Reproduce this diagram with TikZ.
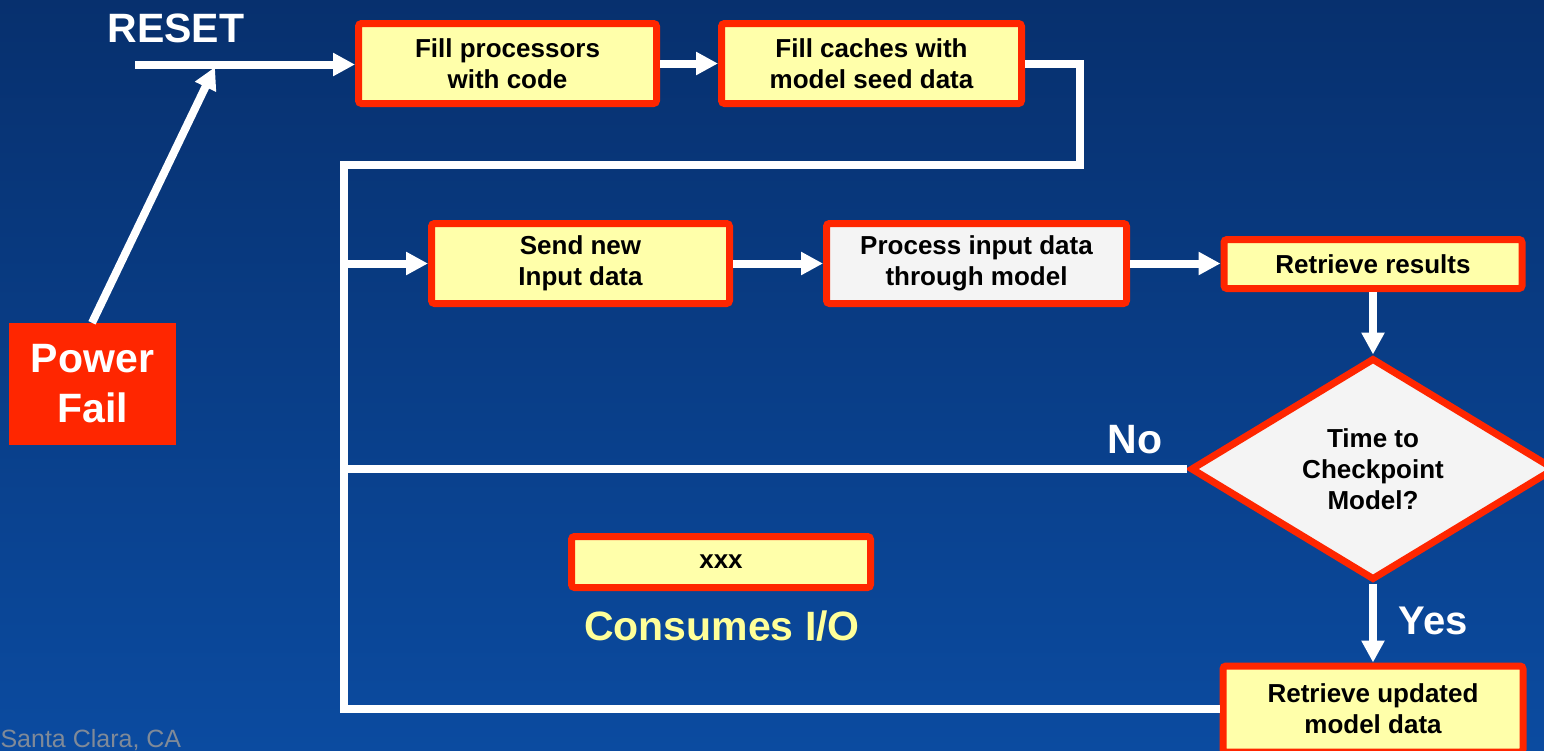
\documentclass[tikz,border=0pt]{standalone}
\usepackage{fontspec}
\setmainfont{Liberation Sans}
\usetikzlibrary{arrows.meta,shapes.geometric}

\definecolor{bgtop}{RGB}{7,48,110}
\definecolor{bgbot}{RGB}{11,75,160}
\definecolor{alertred}{RGB}{255,38,0}
\definecolor{boxyellow}{RGB}{255,255,170}
\definecolor{boxgray}{RGB}{244,244,244}
\definecolor{noteyellow}{RGB}{255,255,153}
\definecolor{footgray}{RGB}{128,138,152}

\tikzset{
  stepbox/.style={draw=alertred, line width=7pt, fill=boxyellow, rounded corners=3pt,
    align=center, inner sep=2pt, text=black,
    font=\fontsize{26}{31}\selectfont\bfseries},
  graybox/.style={stepbox, fill=boxgray},
  decision/.style={diamond, draw=alertred, line width=7pt, fill=boxgray, align=center,
    inner sep=0pt, aspect=1.63, minimum width=365pt, minimum height=222pt,
    font=\fontsize{26}{31}\selectfont\bfseries},
  conn/.style={draw=white, line width=8pt, line join=miter},
  arr/.style={conn, -{Triangle[length=22pt,width=22pt]}},
  biglabel/.style={text=white, font=\fontsize{41}{50}\selectfont\bfseries}
}

\begin{document}
\begin{tikzpicture}[x=1pt,y=-1pt]
  % background
  \shade[top color=bgtop, bottom color=bgbot] (0,0) rectangle (1544,750);
  \useasboundingbox (0,0) rectangle (1544,750);

  % process steps
  \node[stepbox, minimum width=298pt, minimum height=80pt] (b1) at (507.5,63.5) {Fill processors\\with code};
  \node[stepbox, minimum width=300pt, minimum height=80pt] (b2) at (871.5,63.5) {Fill caches with\\model seed data};
  \node[stepbox, minimum width=298pt, minimum height=80pt] (b3) at (580.5,263.5) {Send new\\Input data};
  \node[graybox, minimum width=300pt, minimum height=80pt] (b4) at (976.5,263.5) {Process input data\\through model};
  \node[stepbox, minimum width=298pt, minimum height=49pt] (b5) at (1373,264) {Retrieve results};
  \node[decision] (dia) at (1373,469) {Time to\\Checkpoint\\Model?};
  \node[stepbox, minimum width=300pt, minimum height=86pt] (b6) at (1373,709) {Retrieve updated\\model data};
  \node[stepbox, minimum width=299pt, minimum height=51pt] (xx) at (721,562) {xxx};

  % power fail trigger
  \node[fill=alertred, minimum width=167pt, minimum height=122pt, inner sep=0pt, align=center,
        biglabel] (pf) at (92.5,384) {Power\\Fail};

  % labels
  \node[biglabel] (reset) at (176,28) {RESET};
  \node[biglabel] (no) at (1135,440) {No};
  \node[biglabel, font=\fontsize{40}{48}\selectfont\bfseries] (yes) at (1433,621) {Yes};
  \node[text=noteyellow, font=\fontsize{41}{50}\selectfont\bfseries] (io) at (722,626) {Consumes I/O};
  \node[text=footgray, anchor=base west, font=\fontsize{25}{30}\selectfont] (foot) at (-3,747) {Santa Clara, CA};

  % junction points
  \coordinate (rs) at (135,64.5);
  \coordinate (pj) at (215,67);
  \coordinate (tr) at (1080,165);
  \coordinate (tl) at (344,165);
  \coordinate (bl) at (344,709);

  % connectors
  \draw[arr] (rs) -- (b1.west |- rs);
  \draw[arr] (pf.north) ++(-0.5,0) -- (pj);
  \draw[arr] (b1.east) -- (b2.west);
  \draw[conn] (b2.east) -| (tr) -- (tl) -- (bl) -- (b6.west);
  \draw[arr] (tl |- b3.west) -- (b3.west);
  \draw[arr] (b3.east) -- (b4.west);
  \draw[arr] (b4.east) -- (b5.west |- b4.east);
  \draw[arr] (b5.south) -- (dia.north);
  \draw[conn] (dia.west) -- (tl |- dia.west);
  \draw[arr] (dia.south) -- (b6.north);
\end{tikzpicture}
\end{document}
